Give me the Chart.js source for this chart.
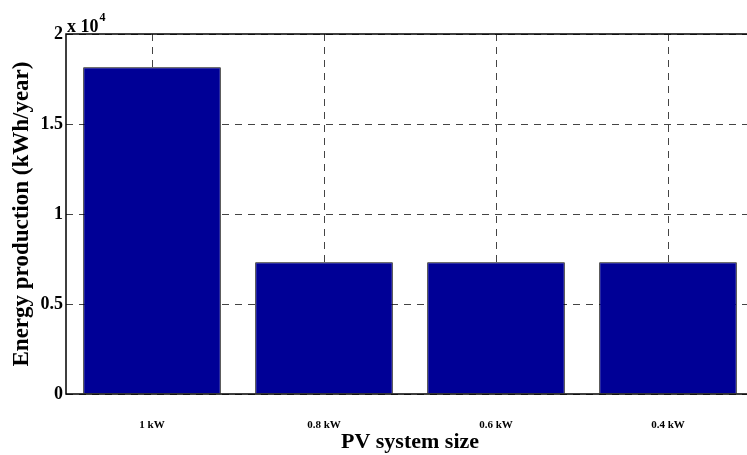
<!DOCTYPE html>
<html lang="en">
<head>
    <meta charset="UTF-8">
    <title>PV system size</title>
    <script src="https://cdn.jsdelivr.net/npm/chart.js"></script>
    <style>
        html, body { margin: 0; padding: 0; background: #fff; overflow: hidden; }
        #wrap { width: 760px; height: 455px; }
    </style>
</head>
<body>
    <div id="wrap"><canvas id="pvChart"></canvas></div>

    <script>
        // Datos
        const categories = ['1 kW', '0.8 kW', '0.6 kW', '0.4 kW'];
        const energyValues = [18150, 7320, 7320, 7320];
        const yTicks = [0, 5000, 10000, 15000, 20000];

        const serif = "'Liberation Serif', 'DejaVu Serif', serif";

        // Marco solido (ejes y linea superior) y el factor "x 10^4"
        const frameAndExponent = {
            id: 'frameAndExponent',
            afterDraw(chart) {
                const { ctx, chartArea } = chart;
                ctx.save();
                ctx.strokeStyle = '#000';
                ctx.lineWidth = 1.5;
                ctx.setLineDash([]);
                ctx.beginPath();
                ctx.moveTo(chartArea.right, chartArea.top);
                ctx.lineTo(chartArea.left, chartArea.top);
                ctx.lineTo(chartArea.left, chartArea.bottom);
                ctx.lineTo(chartArea.right, chartArea.bottom);
                ctx.stroke();

                ctx.fillStyle = '#000';
                ctx.textBaseline = 'alphabetic';
                ctx.textAlign = 'left';
                ctx.font = 'bold 18px ' + serif;
                const x0 = chartArea.left + 1;
                ctx.fillText('x 10', x0, chartArea.top - 2);
                const w = ctx.measureText('x 10').width;
                ctx.font = 'bold 12px ' + serif;
                ctx.fillText('4', x0 + w + 1, chartArea.top - 13);
                ctx.restore();
            }
        };

        new Chart(document.getElementById('pvChart'), {
            type: 'bar',
            data: {
                labels: categories,
                datasets: [{
                    data: energyValues,
                    backgroundColor: 'rgb(0, 0, 150)',
                    borderColor: '#000',
                    borderWidth: 1,
                    categoryPercentage: 1,
                    barPercentage: 0.8
                }]
            },
            options: {
                responsive: true,
                maintainAspectRatio: false,
                animation: false,
                layout: { padding: { top: 34, right: 6, left: 0, bottom: 0 } },
                plugins: {
                    legend: { display: false },
                    tooltip: { enabled: false }
                },
                scales: {
                    x: {
                        afterFit: s => { s.height = 61; },
                        grid: {
                            offset: false,
                            drawTicks: false,
                            color: '#444',
                            lineWidth: 1
                        },
                        border: { display: false, dash: [7, 6] },
                        ticks: {
                            padding: 25,
                            color: '#000',
                            font: { family: serif, weight: 'bold', size: 11 }
                        },
                        title: {
                            display: true,
                            text: 'PV system size',
                            color: '#000',
                            font: { family: serif, weight: 'bold', size: 22 },
                            padding: { top: 0, bottom: -1 }
                        }
                    },
                    y: {
                        min: 0,
                        max: 20000,
                        afterFit: s => { s.width = 66; },
                        afterBuildTicks: s => { s.ticks = yTicks.map(v => ({ value: v })); },
                        grid: {
                            drawTicks: false,
                            color: '#444',
                            lineWidth: 1
                        },
                        border: { display: false, dash: [7, 6] },
                        ticks: {
                            padding: 3,
                            color: '#000',
                            font: { family: serif, weight: 'bold', size: 18 },
                            callback: v => String(v / 10000)
                        },
                        title: {
                            display: true,
                            text: 'Energy production (kWh/year)',
                            color: '#000',
                            font: { family: serif, weight: 'bold', size: 23 },
                            padding: { top: 8, bottom: 0 }
                        }
                    }
                }
            },
            plugins: [frameAndExponent]
        });
    </script>
</body>
</html>
